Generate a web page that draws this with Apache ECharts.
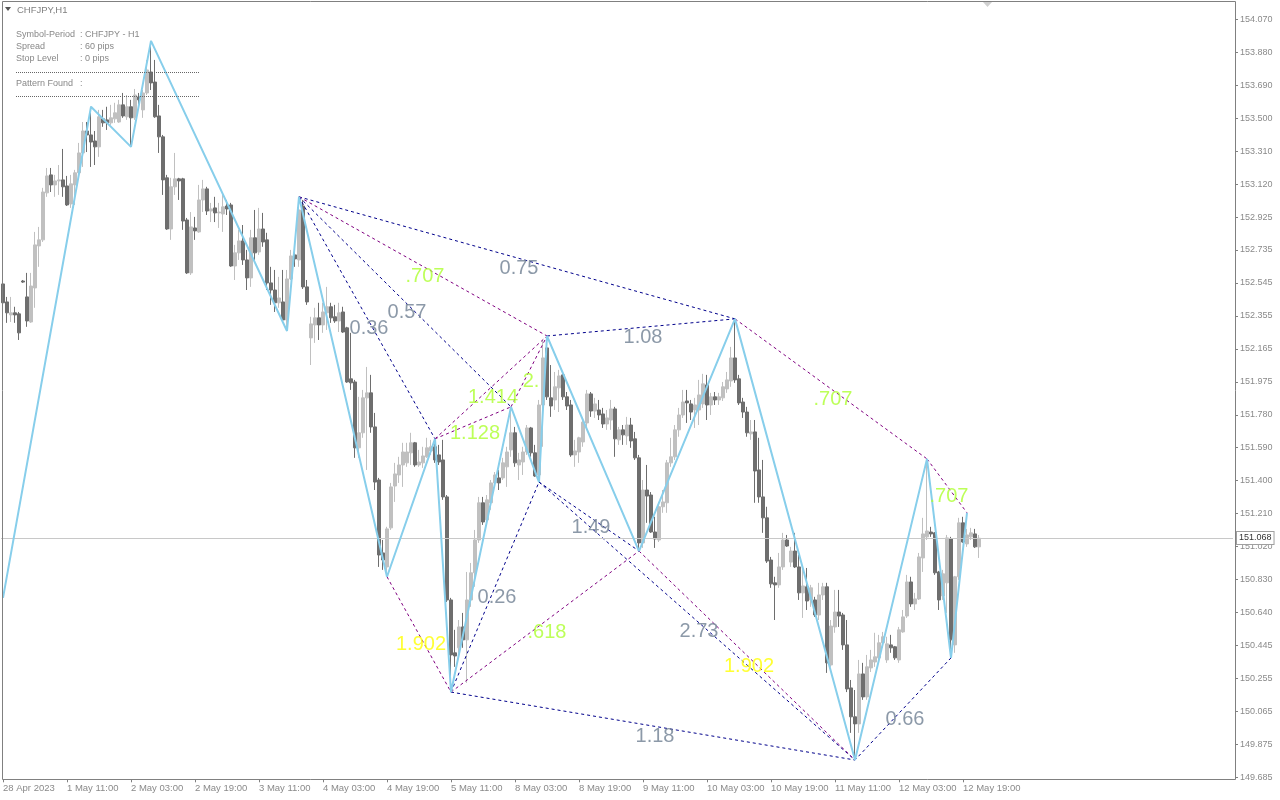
<!DOCTYPE html>
<html><head><meta charset="utf-8">
<script src="https://cdn.jsdelivr.net/npm/echarts@6/dist/echarts.min.js"></script>
<style>html,body{margin:0;padding:0;background:#fff}#c{width:1280px;height:800px}</style>
</head><body><div id="c"></div>
<script>
// ---------- DATA ----------
const timeLabels = ['28 Apr 2023','1 May 11:00','2 May 03:00','2 May 19:00','3 May 11:00','4 May 03:00','4 May 19:00','5 May 11:00','8 May 03:00','8 May 19:00','9 May 11:00','10 May 03:00','10 May 19:00','11 May 11:00','12 May 03:00','12 May 19:00'];
const priceTicks = ['149.685','149.875','150.065','150.255','150.445','150.640','150.830','151.020','151.210','151.400','151.590','151.780','151.975','152.165','152.355','152.545','152.735','152.925','153.120','153.310','153.500','153.690','153.880','154.070'];
const opens = [152.539,152.435,152.360,152.372,152.366,152.556,152.464,152.319,152.516,152.759,152.794,153.066,153.170,153.112,153.135,153.141,153.106,153.002,153.112,153.182,
153.297,153.424,153.401,153.366,153.332,153.494,153.488,153.471,153.494,153.476,153.575,153.506,153.564,153.500,153.621,153.546,153.644,153.765,153.707,153.511,
153.390,153.153,152.857,153.101,153.147,153.147,152.909,152.603,152.863,152.840,153.025,153.089,152.961,152.979,152.950,152.944,152.990,152.996,152.643,152.719,
152.788,152.678,152.574,152.806,152.724,152.857,152.794,152.545,152.504,152.430,152.435,152.331,152.568,152.707,152.678,152.990,152.522,152.227,152.302,152.343,
152.302,152.372,152.407,152.349,152.325,152.377,152.285,151.990,151.972,151.591,151.678,151.880,151.909,151.712,151.405,150.983,150.902,151.128,151.370,151.434,
151.492,151.504,151.562,151.620,151.492,151.504,151.539,151.573,151.597,151.550,151.521,151.307,150.711,150.405,150.434,150.555,150.480,150.711,150.868,151.058,
151.273,151.174,151.273,151.388,151.417,151.417,151.481,151.579,151.678,151.492,151.509,151.567,151.706,151.562,151.434,151.839,152.169,151.880,151.868,151.938,
152.013,151.886,151.839,151.550,151.567,151.625,151.735,151.903,151.804,151.810,151.787,151.729,151.752,151.816,151.637,151.695,151.660,151.723,151.643,151.533,
151.041,151.347,151.318,151.104,151.058,151.250,151.273,151.504,151.539,151.695,151.781,151.862,151.845,151.810,151.810,151.845,151.955,151.839,151.886,151.868,
151.880,151.932,151.978,152.111,151.990,151.856,151.798,151.672,151.683,151.463,151.307,151.186,150.942,150.810,150.798,150.902,151.058,150.930,150.994,150.902,
150.752,150.787,150.711,150.711,150.624,150.740,150.787,150.335,150.555,150.641,150.624,150.451,150.202,150.035,149.994,150.283,150.150,150.318,150.352,150.376,
150.463,150.364,150.451,150.440,150.364,150.526,150.618,150.815,150.688,150.717,150.954,151.076,151.104,151.099,150.873,150.734,150.810,151.064,150.451,150.845,
151.157,151.035,151.076,151.093,151.018];
const closes = [152.430,152.372,152.372,152.360,152.256,152.550,152.325,152.527,152.765,152.794,153.071,153.164,153.112,153.135,153.141,153.101,152.996,153.118,153.182,153.297,
153.424,153.401,153.360,153.332,153.506,153.471,153.471,153.500,153.529,153.575,153.511,153.564,153.500,153.632,153.604,153.644,153.777,153.702,153.506,153.390,
153.141,152.857,153.101,153.147,153.135,152.903,152.603,152.869,152.846,153.025,153.089,152.961,152.973,152.950,152.955,152.985,152.973,152.643,152.719,152.788,
152.678,152.574,152.806,152.719,152.857,152.782,152.545,152.504,152.430,152.458,152.331,152.568,152.701,152.684,152.967,152.522,152.435,152.308,152.343,152.302,
152.377,152.407,152.343,152.325,152.372,152.261,151.972,151.967,151.591,151.678,151.880,151.909,151.712,151.393,150.971,150.942,151.122,151.365,151.440,151.492,
151.567,151.567,151.620,151.492,151.509,151.544,151.591,151.597,151.521,151.509,151.307,150.711,150.393,150.387,150.555,150.480,150.711,150.868,151.058,151.273,
151.162,151.290,151.388,151.434,151.388,151.504,151.567,151.678,151.504,151.521,151.567,151.706,151.562,151.428,151.839,152.111,151.886,151.833,151.944,152.007,
151.886,151.833,151.550,151.573,151.649,151.740,151.903,151.804,151.845,151.781,151.729,151.764,151.816,151.643,151.695,151.666,151.723,151.631,151.533,151.041,
151.347,151.312,151.104,151.064,151.250,151.278,151.504,151.539,151.695,151.781,151.856,151.851,151.798,151.839,151.897,151.961,151.839,151.886,151.868,151.886,
151.944,151.984,152.111,151.984,151.851,151.798,151.678,151.683,151.457,151.307,151.186,150.936,150.804,150.798,150.902,151.058,151.023,150.994,150.902,150.752,
150.792,150.705,150.781,150.624,150.740,150.787,150.347,150.560,150.641,150.618,150.451,150.196,150.035,149.994,150.283,150.150,150.324,150.364,150.382,150.463,
150.498,150.457,150.434,150.376,150.538,150.613,150.815,150.688,150.717,150.960,151.093,151.110,151.093,150.868,150.711,150.862,151.070,150.480,150.845,151.157,
151.046,151.087,151.099,151.018,151.068];
const lows = [152.412,152.314,152.319,152.314,152.215,152.545,152.291,152.314,152.401,152.638,152.782,153.043,153.071,153.043,153.054,153.043,152.990,152.979,152.996,153.159,
153.216,153.302,153.216,153.227,153.274,153.448,153.430,153.459,153.471,153.471,153.500,153.488,153.332,153.488,153.546,153.500,153.632,153.661,153.500,153.297,
153.054,152.852,152.794,153.054,153.025,152.852,152.597,152.591,152.794,152.835,152.955,152.938,152.897,152.897,152.863,152.840,152.938,152.638,152.562,152.678,
152.649,152.504,152.522,152.678,152.707,152.754,152.504,152.418,152.377,152.401,152.319,152.267,152.562,152.638,152.638,152.510,152.418,152.070,152.198,152.215,
152.256,152.273,152.314,152.314,152.261,152.256,151.967,151.926,151.533,151.533,151.649,151.463,151.678,151.347,150.902,150.885,150.845,151.116,151.278,151.388,
151.365,151.481,151.492,151.481,151.481,151.475,151.533,151.550,151.504,151.492,151.290,150.699,150.178,150.324,150.405,150.434,150.231,150.671,150.787,151.041,
151.145,151.145,151.232,151.359,151.347,151.405,151.365,151.539,151.481,151.405,151.434,151.550,151.539,151.423,151.393,151.597,151.868,151.770,151.810,151.798,
151.868,151.810,151.539,151.481,151.504,151.597,151.712,151.770,151.764,151.752,151.706,151.695,151.695,151.539,151.608,151.608,151.608,151.591,151.521,150.994,
151.012,151.157,151.099,151.012,151.046,151.215,151.215,151.481,151.521,151.655,151.764,151.735,151.752,151.706,151.723,151.822,151.752,151.781,151.839,151.839,
151.862,151.909,151.944,151.967,151.839,151.764,151.655,151.637,151.273,151.273,151.099,150.925,150.781,150.595,150.781,150.885,151.018,150.902,150.896,150.711,
150.607,150.653,150.671,150.613,150.595,150.711,150.289,150.324,150.521,150.555,150.422,150.178,149.942,149.785,149.942,150.133,150.133,150.294,150.324,150.347,
150.434,150.347,150.405,150.364,150.347,150.521,150.607,150.671,150.653,150.711,150.873,151.058,151.076,150.856,150.653,150.711,150.636,150.376,150.405,150.827,
151.041,151.018,151.058,151.012,150.954];
const highs = [152.591,152.464,152.464,152.407,152.377,152.562,152.603,152.603,152.840,152.869,153.095,153.210,153.210,153.170,153.227,153.320,153.164,153.170,153.199,153.355,
153.476,153.476,153.564,153.424,153.546,153.546,153.564,153.575,153.587,153.604,153.644,153.632,153.604,153.667,153.644,153.661,153.835,153.945,153.835,153.575,
153.401,153.170,153.153,153.297,153.153,153.153,152.921,152.955,152.927,153.112,153.141,153.101,153.008,153.043,153.008,153.054,153.025,153.008,152.765,152.852,
152.880,152.736,152.852,152.967,152.979,152.950,152.835,152.638,152.620,152.580,152.620,152.620,152.736,152.754,153.043,153.025,152.562,152.349,152.401,152.430,
152.430,152.522,152.430,152.418,152.430,152.407,152.291,152.256,151.984,151.886,151.926,152.059,152.013,151.793,151.417,151.058,151.134,151.388,151.504,151.539,
151.620,151.620,151.678,151.625,151.579,151.597,151.649,151.637,151.643,151.608,151.637,151.318,150.723,150.538,150.595,150.636,150.873,150.925,151.116,151.307,
151.307,151.318,151.405,151.451,151.463,151.533,151.597,151.828,151.712,151.562,151.597,151.723,151.712,151.608,151.868,152.215,152.238,152.070,152.030,152.042,
152.030,151.914,151.868,151.637,151.655,151.752,151.926,151.914,151.880,151.868,151.822,151.810,151.868,151.828,151.712,151.723,151.770,151.764,151.683,151.550,
151.405,151.492,151.335,151.192,151.278,151.347,151.521,151.649,151.723,151.822,151.926,151.926,151.868,151.880,151.984,152.019,152.013,151.909,151.914,151.909,
151.972,152.030,152.175,152.337,152.013,151.880,151.828,151.752,151.752,151.649,151.521,151.250,150.960,150.845,150.983,151.099,151.087,151.018,151.099,150.971,
150.896,150.896,150.798,150.729,150.810,150.810,150.810,150.595,150.769,150.769,150.636,150.595,150.248,150.190,150.364,150.347,150.393,150.422,150.521,150.509,
150.526,150.498,150.509,150.445,150.555,150.653,150.856,150.845,150.752,150.983,151.186,151.527,151.134,151.104,150.879,150.885,151.087,151.076,150.850,151.186,
151.192,151.122,151.128,151.122,151.087];
const currentPrice = 151.068;
// zigzag pivots (bar index, price)
const zigIndex = [0,22,32,37,71,74,96,108,112,127,134,136,159,183,213,231,237,241];
const zigPrice = [150.723,153.564,153.332,153.945,152.267,153.043,150.845,151.643,150.178,151.828,151.393,152.238,150.994,152.337,149.785,151.527,150.376,151.215];
// pattern lines between pivots (pivot numbers) and their ratio labels
const patFrom = [5,5,5,5,7,7,9,11,13,15,16,8,6,8,8,10,10,12];
const patTo   = [13,11,9,7,11,9,11,13,15,17,14,14,8,10,12,14,12,14];
const patText = ['0.75','.707','0.57','0.36','1.414','1.128','2.','1.08','.707','.707','0.66','1.18','1.902','0.26','.618','2.73','1.49','1.902'];

// ---------- STYLES ----------
const NAVY = '#00008B', PURPLE = '#800080';
const GRAY = '#6f7f92', LIME = '#ADFF2F', YELLOW = '#FFFF00';
const patLineColor = [NAVY,PURPLE,NAVY,NAVY,PURPLE,PURPLE,PURPLE,NAVY,PURPLE,PURPLE,NAVY,NAVY,PURPLE,NAVY,PURPLE,NAVY,NAVY,PURPLE];
const patTextColor = [GRAY,LIME,GRAY,GRAY,LIME,LIME,LIME,GRAY,LIME,LIME,GRAY,GRAY,YELLOW,GRAY,LIME,GRAY,GRAY,YELLOW];
const FONT = '"Liberation Sans", Arial, sans-serif';
const AXC = '#8a8a8a';
const N = 308;
const STEP = 16;

const cats = [];
for (let i = 0; i < N; i++) cats.push(String(i));
const showLab = (i) => i % STEP === 0 && (i / STEP) < timeLabels.length;

const candleData = opens.map((o, i) => [o, closes[i], lows[i], highs[i]]);
const zigData = zigIndex.map((x, k) => [x, zigPrice[k]]);

const series = [];
series.push({
  type: 'candlestick', xAxisIndex: 0, yAxisIndex: 0, data: candleData, barWidth: 3, z: 2,
  itemStyle: { color: '#c0c0c0', color0: '#6e6e6e', borderColor: '#c0c0c0', borderColor0: '#6e6e6e', borderWidth: 1 },
  markLine: {
    silent: true, symbol: 'none', animation: false,
    lineStyle: { color: '#c8c8c8', type: 'solid', width: 1 },
    label: { show: true, position: 'end', formatter: currentPrice.toFixed(3), fontSize: 9, fontFamily: FONT,
      color: '#333', backgroundColor: '#fff', borderColor: '#a0a0a0', borderWidth: 1, padding: [2, 2, 1, 2], distance: 4 },
    data: [{ yAxis: currentPrice }]
  }
});
patFrom.forEach((a, k) => {
  const b = patTo[k];
  series.push({
    type: 'line', xAxisIndex: 1, yAxisIndex: 0, symbol: 'none', z: 4, silent: true,
    data: [[zigIndex[a], zigPrice[a]], [zigIndex[b], zigPrice[b]]],
    lineStyle: { color: patLineColor[k], width: 1, type: [3, 3] }
  });
});
series.push({
  type: 'line', xAxisIndex: 1, yAxisIndex: 0, symbol: 'none', z: 5, silent: true, data: zigData,
  lineStyle: { color: '#87CEEB', width: 2 }
});
series.push({
  type: 'scatter', xAxisIndex: 1, yAxisIndex: 0, symbolSize: 0, z: 6, silent: true,
  data: patFrom.map((a, k) => {
    const b = patTo[k];
    return {
      value: [(zigIndex[a] + zigIndex[b]) / 2, (zigPrice[a] + zigPrice[b]) / 2],
      label: { show: true, formatter: patText[k], color: patTextColor[k] }
    };
  }),
  label: { show: true, position: 'inside', offset: [2, 10.5], fontSize: 20, fontFamily: FONT }
});

const txt = (x, y, t, size, color) => ({ type: 'text', z: 50, style: { x: x, y: y, text: t, fill: color || '#888', font: (size || 9) + 'px ' + FONT, verticalAlign: 'middle' } });

const option = {
  animation: false,
  backgroundColor: '#ffffff',
  grid: { left: 1, top: 19.3, width: 1232, height: 758, show: false },
  xAxis: [
    { type: 'category', data: cats, boundaryGap: true, offset: 2, position: 'bottom',
      axisLine: { show: false },
      axisTick: { show: true, alignWithLabel: true, interval: (i) => showLab(i), length: 3, lineStyle: { color: '#808080' } },
      axisLabel: { show: true, interval: (i) => showLab(i), formatter: (v, i) => timeLabels[Number(v) / STEP] || '',
        align: 'left', margin: 4, fontSize: 9.5, fontFamily: FONT, color: AXC },
      splitLine: { show: false } },
    { type: 'value', min: -0.5, max: N - 0.5, show: false }
  ],
  yAxis: [
    { type: 'value', min: 149.685, max: 154.070, show: false, splitLine: { show: false } },
    { type: 'category', data: priceTicks, boundaryGap: false, position: 'right', offset: 2,
      axisLine: { show: false },
      axisTick: { show: true, length: 3, lineStyle: { color: '#808080' } },
      axisLabel: { show: true, margin: 5, fontSize: 9, fontFamily: FONT, color: AXC },
      splitLine: { show: false } }
  ],
  series: series,
  graphic: [
    { type: 'rect', z: 60, silent: true, shape: { x: 2.5, y: 1.5, width: 1233, height: 778 }, style: { fill: 'none', stroke: '#808080', lineWidth: 1 } },
    { type: 'polygon', z: 60, shape: { points: [[5, 7], [11, 7], [8, 11]] }, style: { fill: '#555' } },
    { type: 'polygon', z: 60, shape: { points: [[983, 2], [992, 2], [987.5, 7]] }, style: { fill: '#d0d0d0' } },
    txt(17, 10, 'CHFJPY,H1', 9.5, '#808080'),
    txt(16, 35, 'Symbol-Period', 9),
    txt(80, 35, ': CHFJPY - H1', 9),
    txt(16, 47, 'Spread', 9),
    txt(80, 47, ': 60 pips', 9),
    txt(16, 59, 'Stop Level', 9),
    txt(80, 59, ': 0 pips', 9),
    txt(16, 84, 'Pattern Found', 9),
    txt(80, 84, ':', 9),
    { type: 'line', z: 50, shape: { x1: 16, y1: 72.5, x2: 199, y2: 72.5 }, style: { stroke: '#666', lineWidth: 1, lineDash: [1, 1] } },
    { type: 'line', z: 50, shape: { x1: 16, y1: 96.5, x2: 199, y2: 96.5 }, style: { stroke: '#666', lineWidth: 1, lineDash: [1, 1] } }
  ]
};
const chart = echarts.init(document.getElementById('c'), null, { renderer: 'canvas' });
chart.setOption(option);
</script>
</body></html>
